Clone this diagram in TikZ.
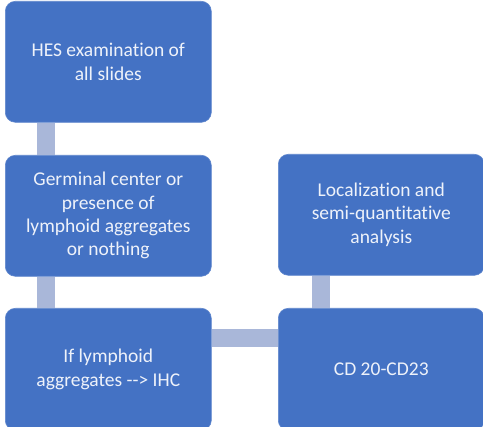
\documentclass[tikz,border=0pt]{standalone}
\usepackage{fontspec}
\setmainfont{Carlito}[Ligatures={NoCommon}]
\usetikzlibrary{calc}
\definecolor{boxblue}{HTML}{4472C4}
\definecolor{connblue}{HTML}{A9B7D9}
\definecolor{boxtext}{HTML}{EEF2FA}
\begin{document}
\begin{tikzpicture}[x=1pt,y=-1pt,
  box/.style={anchor=north west, fill=boxblue, draw=boxblue!85!white, line width=0.6pt,
    rounded corners=10pt, minimum width=206pt, inner sep=0pt,
    text=boxtext, align=center, font=\fontsize{19.5}{23.3}\selectfont},
  conn/.style={draw=connblue, line width=18pt}]
\useasboundingbox (0,0) rectangle (483,427);
\node[box, minimum height=121pt] (b1) at (5,1) {HES examination of\\all slides};
\node[box, minimum height=121pt] (b2) at (5,155) {Germinal center or\\presence of\\lymphoid aggregates\\or nothing};
\node[box, minimum height=122pt] (b3) at (5,308) {If lymphoid\\aggregates -{}-{}> IHC};
\node[box, minimum height=122pt] (b4) at (278,308) {CD 20-CD23};
\node[box, minimum height=121pt] (b5) at (278,154) {Localization and\\semi-quantitative\\analysis};
\draw[conn] ($(b1.south west)+(40.5,0)$) -- ($(b2.north west)+(40.5,0)$);
\draw[conn] ($(b2.south west)+(40.5,0)$) -- ($(b3.north west)+(40.5,0)$);
\draw[conn] ($(b3.north east)+(0,30)$) -- ($(b4.north west)+(0,30)$);
\draw[conn] ($(b5.south west)+(42.5,0)$) -- ($(b4.north west)+(42.5,0)$);
\end{tikzpicture}
\end{document}
